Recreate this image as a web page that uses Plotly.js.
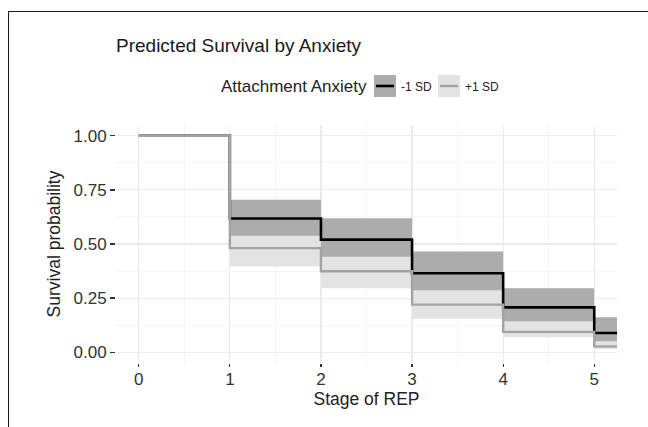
<!DOCTYPE html>
<html>
<head>
<meta charset="utf-8">
<script src="https://cdn.plot.ly/plotly-3.0.1.min.js"></script>
<style>
  html, body { margin: 0; padding: 0; background: #fff; }
  #wrap { position: relative; width: 648px; height: 427px; overflow: hidden; }
  #chart { position: absolute; left: 0; top: 0; width: 648px; height: 427px; }
  #frame { position: absolute; left: 8px; top: 11px; width: 700px; height: 500px;
           border-left: 1.5px solid #1a1a1a; border-top: 1.5px solid #1a1a1a; pointer-events: none; }
</style>
</head>
<body>
<div id="wrap"><div id="chart"></div><div id="frame"></div></div>
<script>
// ---- data ----
const stages = [0, 1, 2, 3, 4, 5];
const followUpEnd = 5.25;

const lowSurv  = [1, 0.618, 0.520, 0.365, 0.207, 0.089];   // -1 SD
const lowUpper = [1, 0.704, 0.619, 0.465, 0.295, 0.161];
const lowLower = [1, 0.538, 0.441, 0.286, 0.143, 0.051];

const highSurv  = [1, 0.481, 0.374, 0.220, 0.094, 0.027];  // +1 SD
const highUpper = [1, 0.570, 0.460, 0.300, 0.160, 0.060];
const highLower = [1, 0.396, 0.295, 0.155, 0.070, 0.015];

const groupLabels = ['-1 SD', '+1 SD'];
const legendTitle = 'Attachment Anxiety';
const xTicks = [0, 1, 2, 3, 4, 5];
const yTicks = [0, 0.25, 0.5, 0.75, 1];
const yTickText = ['0.00', '0.25', '0.50', '0.75', '1.00'];

// ---- styles ----
const FONT = 'Liberation Sans, Arial, Helvetica, sans-serif';
const darkFill = '#acacac', lightFill = '#e3e3e3';
const blackLine = '#000000', grayLine = '#a3a3a3';

function ext(arr) { return arr.concat([arr[arr.length - 1]]); }
const xs = stages.concat([followUpEnd]);

function band(lower, upper, color) {
  return [
    { x: xs, y: ext(lower), type: 'scatter', mode: 'lines', line: { shape: 'hv', width: 0, color: color },
      hoverinfo: 'skip', showlegend: false },
    { x: xs, y: ext(upper), type: 'scatter', mode: 'lines', line: { shape: 'hv', width: 0, color: color },
      fill: 'tonexty', fillcolor: color, hoverinfo: 'skip', showlegend: false }
  ];
}

const traces = []
  .concat(band(highLower, highUpper, lightFill))
  .concat(band(lowLower, lowUpper, darkFill))
  .concat([
    { x: xs, y: ext(lowSurv), type: 'scatter', mode: 'lines', name: groupLabels[0],
      line: { shape: 'hv', width: 2.6, color: blackLine }, showlegend: false },
    { x: xs, y: ext(highSurv), type: 'scatter', mode: 'lines', name: groupLabels[1],
      line: { shape: 'hv', width: 2.4, color: grayLine }, showlegend: false }
  ]);

// plot area in pixels
const M = { l: 116, r: 31, t: 125, b: 64 };
const W = 648, H = 427;
const PW = W - M.l - M.r, PH = H - M.t - M.b;
const px = v => (v - M.l) / PW;
const py = v => (H - M.b - v) / PH;

// manual legend (ggplot-style keys)
const shapes = [];
const annotations = [];
function key(x0, fill, lineColor, lineW, label) {
  shapes.push({ type: 'rect', xref: 'paper', yref: 'paper', x0: px(x0), x1: px(x0 + 22),
    y0: py(97), y1: py(75), fillcolor: fill, line: { width: 0 }, layer: 'above' });
  shapes.push({ type: 'line', xref: 'paper', yref: 'paper', x0: px(x0 + 2), x1: px(x0 + 20),
    y0: py(86), y1: py(86), line: { color: lineColor, width: lineW }, layer: 'above' });
  annotations.push({ xref: 'paper', yref: 'paper', x: px(x0 + 25), y: py(87), xanchor: 'left', yanchor: 'middle',
    text: label, showarrow: false, font: { family: FONT, size: 12, color: '#222' } });
}
annotations.push({ xref: 'paper', yref: 'paper', x: px(369), y: py(87), xanchor: 'right', yanchor: 'middle',
  text: legendTitle, showarrow: false, font: { family: FONT, size: 17, color: '#222' } });
key(374, darkFill, blackLine, 2.6, groupLabels[0]);
key(438, lightFill, grayLine, 2.4, groupLabels[1]);

const layout = {
  width: W, height: H,
  margin: M,
  paper_bgcolor: '#ffffff', plot_bgcolor: '#ffffff',
  showlegend: false,
  title: { text: 'Predicted Survival by Anxiety', x: px(116), xref: 'paper', xanchor: 'left',
    y: 1 - 45 / H, yref: 'container', yanchor: 'middle',
    font: { family: FONT, size: 19, color: '#1a1a1a' } },
  xaxis: {
    range: [-0.25, 5.25], tickvals: xTicks, ticktext: xTicks.map(String),
    showgrid: true, gridcolor: '#ebebeb', gridwidth: 1.1,
    minor: { dtick: 0.5, showgrid: true, gridcolor: '#f2f2f2', gridwidth: 0.8 },
    zeroline: false, showline: false,
    ticks: 'outside', ticklen: 3, tickwidth: 1.2, tickcolor: '#333',
    ticklabelstandoff: -2,
    tickfont: { family: FONT, size: 17, color: '#333' },
    title: { text: 'Stage of REP', standoff: 1, font: { family: FONT, size: 17.5, color: '#222' } },
    fixedrange: true
  },
  yaxis: {
    range: [-0.05, 1.05], tickvals: yTicks, ticktext: yTickText,
    showgrid: true, gridcolor: '#ebebeb', gridwidth: 1.1,
    minor: { dtick: 0.125, showgrid: true, gridcolor: '#f2f2f2', gridwidth: 0.8 },
    zeroline: false, showline: false,
    ticks: 'outside', ticklen: 5, tickwidth: 1.2, tickcolor: '#333',
    tickfont: { family: FONT, size: 17, color: '#333' },
    title: { text: 'Survival probability', standoff: 8, font: { family: FONT, size: 17.5, color: '#222' } },
    fixedrange: true
  },
  shapes: shapes,
  annotations: annotations
};

Plotly.newPlot('chart', traces, layout, { staticPlot: true, displayModeBar: false });
</script>
</body>
</html>
